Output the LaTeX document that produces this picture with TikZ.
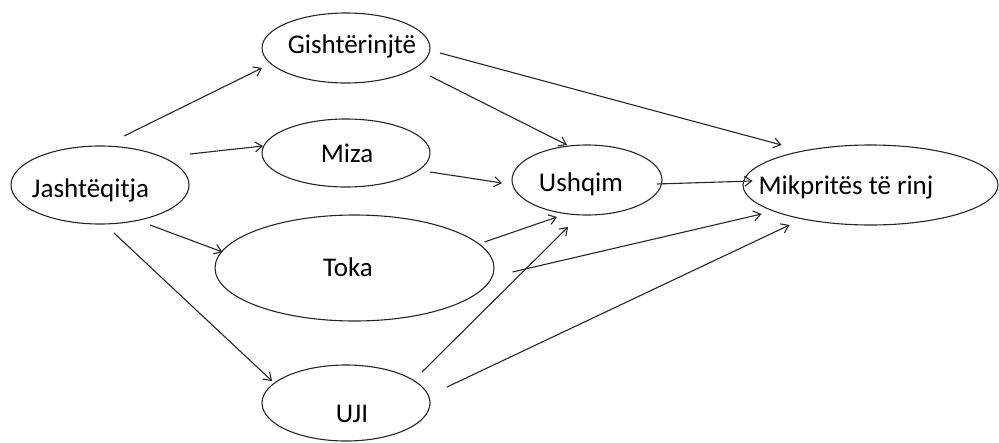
\documentclass[tikz,border=0pt]{standalone}
\usepackage{fontspec}
\setmainfont{Carlito}
\usetikzlibrary{arrows.meta,shapes.geometric}
\begin{document}
\begin{tikzpicture}[x=1pt,y=-1pt,
  oval/.style={draw=black!85,line width=1.1pt,ellipse,inner sep=0pt,outer sep=0pt},
  lbl/.style={anchor=base,inner sep=0pt,font=\fontsize{27}{31}\selectfont},
  arr/.style={draw=black!85,line width=1.1pt,-{Straight Barb[length=7pt,width=10pt]}}]
\useasboundingbox (0,0) rectangle (999,442);
% ellipses
\node[oval,minimum width=178pt,minimum height=78pt] (jash) at (100,185) {};
\node[oval,minimum width=168pt,minimum height=70pt] (gish) at (346,48) {};
\node[oval,minimum width=168pt,minimum height=68pt] (miza) at (346,153) {};
\node[oval,minimum width=150pt,minimum height=70pt] (ushq) at (587,180) {};
\node[oval,minimum width=255pt,minimum height=80pt] (mikp) at (870.5,185) {};
\node[oval,minimum width=279pt,minimum height=106pt] (toka) at (354.5,268) {};
\node[oval,minimum width=168pt,minimum height=76pt] (uji) at (346,403) {};
% labels
\node[lbl] (tjash) at (90.5,197) {Jashtëqitja};
\node[lbl] (tgish) at (352,53) {Gishtërinjtë};
\node[lbl] (tmiza) at (347,162) {Miza};
\node[lbl] (tushq) at (581,191) {Ushqim};
\node[lbl] (tmikp) at (846,194) {Mikpritës të rinj};
\node[lbl] (ttoka) at (348,276) {Toka};
\node[lbl] (tuji) at (352,422) {UJI};
% connectors
\draw[arr] ([shift={(24,-49)}]jash.center) -- ([shift={(-84,20)}]gish.center);
\draw[arr] ([shift={(90,-31)}]jash.center) -- ([shift={(-83,-7)}]miza.center);
\draw[arr] ([shift={(50,40)}]jash.center) -- ([shift={(-132,-16)}]toka.center);
\draw[arr] ([shift={(14,48)}]jash.center) -- ([shift={(-74,-22)}]uji.center);
\draw[arr] ([shift={(84,28)}]gish.center) -- ([shift={(-20,-35)}]ushq.center);
\draw[arr] ([shift={(94,5)}]gish.center) -- ([shift={(-89,-40)}]mikp.center);
\draw[arr] ([shift={(84,19)}]miza.center) -- ([shift={(-85,3)}]ushq.center);
\draw[arr] ([shift={(70,4)}]ushq.center) -- ([shift={(-118,-4)}]mikp.center);
\draw[arr] ([shift={(130,-26)}]toka.center) -- ([shift={(-30,37)}]ushq.center);
\draw[arr] ([shift={(158,4)}]toka.center) -- ([shift={(-109,29)}]mikp.center);
\draw[arr] ([shift={(76,-31)}]uji.center) -- ([shift={(-19,47)}]ushq.center);
\draw[arr] ([shift={(101,-16)}]uji.center) -- ([shift={(-81,40)}]mikp.center);
\end{tikzpicture}
\end{document}
